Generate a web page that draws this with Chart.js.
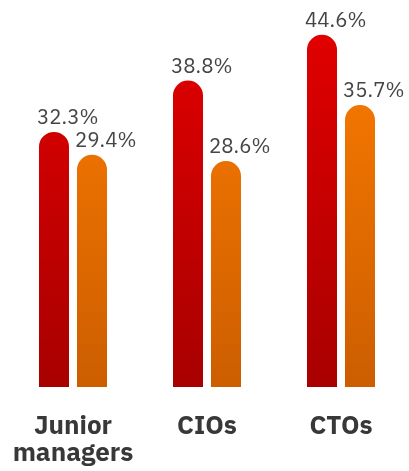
<!DOCTYPE html>
<html lang="en">

<head>
  <meta charset="UTF-8">
  <script src="https://cdn.jsdelivr.net/npm/chart.js@4.4.0/dist/chart.umd.min.js"></script>
  <style>
    body {
      margin: 0;
      background: #fff;
    }

    #wrap {
      width: 409px;
      height: 471px;
    }
  </style>
  <title>Roles</title>
</head>

<body>
  <div id="wrap">
    <canvas id="chart" width="409" height="471"></canvas>
  </div>

  <script>
    // chart values
    const categories = [['Junior', 'managers'], 'CIOs', 'CTOs'];
    const seriesA = [32.3, 38.8, 44.6];
    const seriesB = [29.4, 28.6, 35.7];

    const fontFamily = "'IBM Plex Sans', Roboto, 'Noto Sans', sans-serif";

    // vertical gradient over the chart area
    function gradient(top, bottom) {
      return function (ctx) {
        const area = ctx.chart.chartArea;
        if (!area) return top;
        const g = ctx.chart.ctx.createLinearGradient(0, area.top, 0, area.bottom);
        g.addColorStop(0, top);
        g.addColorStop(1, bottom);
        return g;
      }
    }

    // value labels drawn above each bar, left aligned with the bar
    const valueLabels = {
      id: 'valueLabels',
      afterDatasetsDraw(chart) {
        const ctx = chart.ctx;
        ctx.save();
        ctx.font = '400 20.5px ' + fontFamily;
        ctx.fillStyle = '#454545';
        ctx.textAlign = 'left';
        ctx.textBaseline = 'alphabetic';
        chart.data.datasets.forEach(function (ds, i) {
          chart.getDatasetMeta(i).data.forEach(function (bar, j) {
            ctx.fillText(ds.data[j].toFixed(1) + '%', bar.x - bar.width / 2 - 2, bar.y - 8);
          })
        })
        ctx.restore();
      }
    }

    const chart = new Chart(document.getElementById('chart'), {
      type: 'bar',
      data: {
        labels: categories,
        datasets: [{
          data: seriesA,
          backgroundColor: gradient('#e60000', '#a80000'),
          borderRadius: 15,
          borderSkipped: 'start'
        }, {
          data: seriesB,
          backgroundColor: gradient('#ff7d00', '#cc5e00'),
          borderRadius: 15,
          borderSkipped: 'start'
        }]
      },
      options: {
        responsive: false,
        animation: false,
        categoryPercentage: 0.567,
        barPercentage: 0.79,
        layout: {
          padding: { left: 6, right: 1, top: 0, bottom: -22 }
        },
        plugins: {
          legend: { display: false },
          tooltip: { enabled: false }
        },
        scales: {
          x: {
            grid: { display: false, drawTicks: false },
            border: { display: false },
            ticks: {
              color: '#383838',
              padding: 26,
              maxRotation: 0,
              font: { family: fontFamily, size: 26, weight: '700', lineHeight: '27px' }
            },
            // keep the wide first label from squeezing the plot
            afterFit: function (scale) {
              scale.paddingLeft = 0;
              scale.paddingRight = 0;
            }
          },
          y: {
            display: false,
            min: 0,
            max: 49
          }
        }
      },
      plugins: [valueLabels]
    });
  </script>
</body>

</html>
